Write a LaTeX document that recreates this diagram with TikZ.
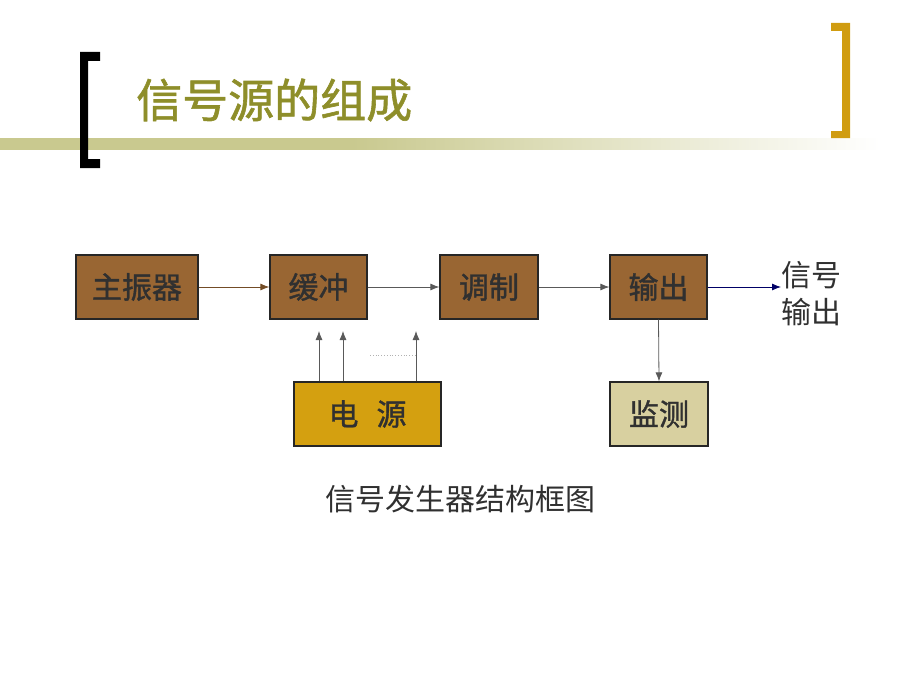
\documentclass[tikz,border=0pt]{standalone}
\usepackage{fontspec}
\newfontfamily\cjk{Noto Sans CJK SC}
\newfontfamily\cjkb[FakeBold=1.3]{Noto Sans CJK SC}
\usetikzlibrary{arrows.meta}
\definecolor{boxbrown}{HTML}{996633}
\definecolor{goldbox}{HTML}{D4A010}
\definecolor{khaki}{HTML}{D8D0A0}
\definecolor{olive}{HTML}{8E8E2A}
\definecolor{bandcol}{HTML}{C9C98F}
\definecolor{bracketgold}{HTML}{D09C10}
\definecolor{txt}{HTML}{303030}
\pgfdeclarehorizontalshading{bandshade}{100bp}{color(0bp)=(bandcol); color(25bp)=(bandcol); color(45bp)=(bandcol); color(75bp)=(white); color(100bp)=(white)}
\begin{document}
\begin{tikzpicture}[x=1pt,y=-1pt,
  blk/.style={draw=black!85,line width=1.3pt,fill=boxbrown,minimum width=#1,minimum height=64pt,inner sep=0pt,font=\cjkb\fontsize{30}{32}\selectfont,text=txt},
  blk/.default=98pt,
  conn/.style={draw=black!65,line width=0.8pt,-{Latex[length=9pt,width=7pt]}}]
\useasboundingbox (0,0) rectangle (920,690);
% header band
\shade[shading=bandshade] (0,138) rectangle (880,149);
% left bracket
\fill[black] (80,52) -- (100,52) -- (100,61) -- (88,61) -- (88,159) -- (100,159) -- (100,168) -- (80,168) -- cycle;
% right bracket
\fill[bracketgold] (831,23) -- (850,23) -- (850,138) -- (831,138) -- (831,131) -- (842,131) -- (842,31) -- (831,31) -- cycle;
% title
\node[anchor=west,inner sep=0pt,text=olive,font=\cjkb\fontsize{46}{48}\selectfont] (title) at (136,100) {信号源的组成};
% blocks
\node[blk=122pt] (osc) at (137,287) {主振器};
\node[blk=97pt] (buf) at (318.5,287) {缓冲};
\node[blk=98pt] (mod) at (489,287) {调制};
\node[blk=97pt] (out) at (658.5,287) {输出};
\node[blk=147pt,fill=goldbox] (pwr) at (367.5,414) {电\hspace{0.6em}源};
\node[blk=98pt,fill=khaki] (mon) at (659,414) {监测};
\node[anchor=west,inner sep=0pt,align=left,text=txt,font=\cjk\fontsize{30}{37}\selectfont] (sig) at (781,294) {信号\\输出};
\node[inner sep=0pt,text=txt,font=\cjk\fontsize{30}{32}\selectfont] (cap) at (460,499) {信号发生器结构框图};
% connectors
\draw[conn,draw=brown!60!black] (osc.east) -- (buf.west);
\draw[conn] (buf.east) -- (mod.west);
\draw[conn] (mod.east) -- (out.west);
\draw[conn,draw=blue!40!black] (out.east) -- (out.east -| sig.west);
\draw[conn] (out.south) -- (mon.north);
\coordinate (p1) at (319,331);
\coordinate (p2) at (343,331);
\coordinate (p3) at (416,331);
\draw[conn] (pwr.north -| p1) -- (p1);
\draw[conn] (pwr.north -| p2) -- (p2);
\draw[conn] (pwr.north -| p3) -- (p3);
\coordinate (d1) at (370,355);
\draw[gray!60,dotted,line width=0.8pt] (d1) -- (d1 -| p3);
\end{tikzpicture}
\end{document}
